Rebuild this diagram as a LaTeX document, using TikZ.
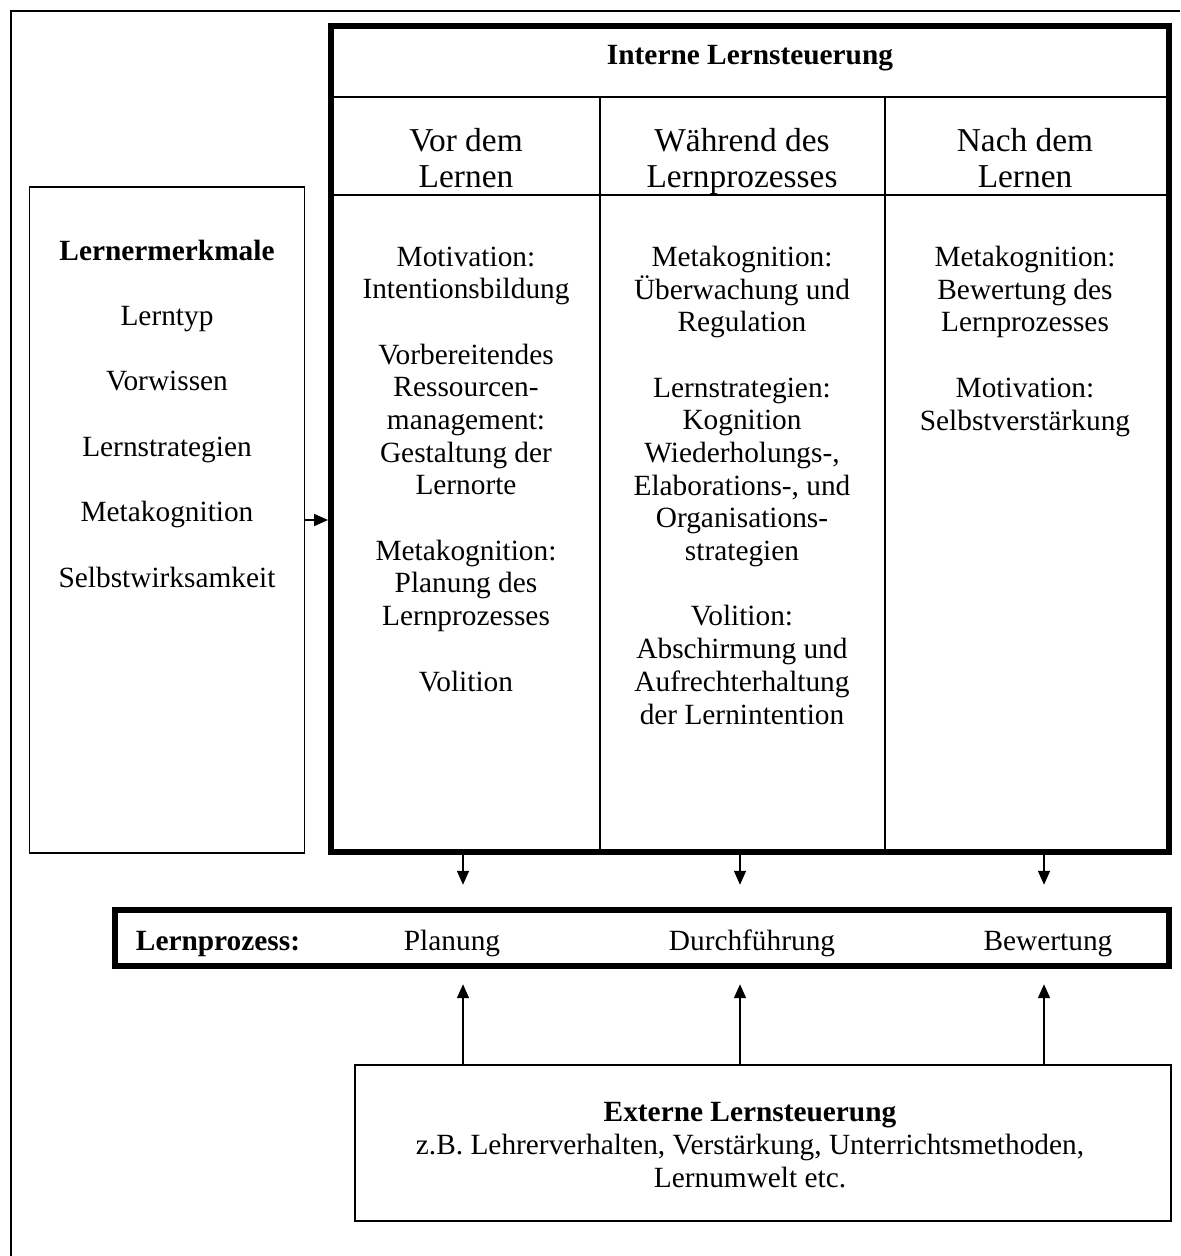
\documentclass[tikz,border=0pt]{standalone}
\usepackage{fontspec}
\setmainfont{Liberation Serif}
\usetikzlibrary{arrows.meta}

\begin{document}
\begin{tikzpicture}[x=0.02cm,y=-0.02cm,
  font=\fontsize{16.7}{18.6}\selectfont,
  frame/.style={draw,line width=1.4pt},
  thickbox/.style={draw,line width=3.4pt,inner sep=0pt},
  thinbox/.style={draw,line width=0.85pt,inner sep=0pt},
  rule/.style={draw,line width=1.1pt},
  txt/.style={align=center,anchor=base,inner sep=0pt},
  bold/.style={txt,font=\fontsize{16.7}{18.6}\selectfont\bfseries},
  head/.style={txt,font=\fontsize{19}{21}\selectfont},
  arr/.style={draw,line width=0.85pt,-{Triangle[length=0.28cm,width=0.24cm]}}]
\useasboundingbox (0,0) rectangle (1180,1256);
\draw[frame] (11,1256) -- (11,11) -- (1180,11);

% boxes
\node[thickbox,minimum width=16.76cm,minimum height=16.52cm] (intern) at (750,439) {};
\node[thinbox,minimum width=5.51cm,minimum height=13.32cm] (merkmale) at (167,520) {};
\node[thickbox,minimum width=21.08cm,minimum height=1.13cm] (prozess) at (642,938) {};
\node[thinbox,minimum width=16.32cm,minimum height=3.12cm] (extern) at (763,1143) {};

% table lines
\coordinate (titlerule) at (0,97);
\coordinate (headrule) at (0,195);
\coordinate (div1) at (600,0);
\coordinate (div2) at (885,0);
\draw[rule] (intern.west |- titlerule) -- (intern.east |- titlerule);
\draw[rule] (intern.west |- headrule) -- (intern.east |- headrule);
\draw[rule] (div1 |- titlerule) -- (div1 |- intern.south);
\draw[rule] (div2 |- titlerule) -- (div2 |- intern.south);

% texts (base = baseline of the last line)
\node[bold] (interntitle) at (750,65) {Interne Lernsteuerung};
\node[head] (vor) at (466,188) {Vor dem\\Lernen};
\node[head] (waehrend) at (742,188) {Während des\\Lernprozesses};
\node[head] (nach) at (1025,188) {Nach dem\\Lernen};
\node[txt] (vorbody) at (466,691) {Motivation:\\Intentionsbildung\\[18.6pt]Vorbereitendes\\Ressourcen-\\management:\\Gestaltung der\\Lernorte\\[18.6pt]Metakognition:\\Planung des\\Lernprozesses\\[18.6pt]Volition};
\node[txt] (waehrendbody) at (742,724) {Metakognition:\\Überwachung und\\Regulation\\[18.6pt]Lernstrategien:\\Kognition\\Wiederholungs-,\\Elaborations-, und\\Organisations-\\strategien\\[18.6pt]Volition:\\Abschirmung und\\Aufrechterhaltung\\der Lernintention};
\node[txt] (nachbody) at (1025,430) {Metakognition:\\Bewertung des\\Lernprozesses\\[18.6pt]Motivation:\\Selbstverstärkung};
\node[txt] (merkmaletext) at (167,587) {\textbf{Lernermerkmale}\\[18.6pt]Lerntyp\\[18.6pt]Vorwissen\\[18.6pt]Lernstrategien\\[18.6pt]Metakognition\\[18.6pt]Selbstwirksamkeit};
\node[bold] (lplabel) at (218,950) {Lernprozess:};
\node[txt] (planung) at (452,950) {Planung};
\node[txt] (durchf) at (752,950) {Durchführung};
\node[txt] (bewertung) at (1048,950) {Bewertung};
\node[txt] (externtext) at (750,1187) {\textbf{Externe Lernsteuerung}\\z.B. Lehrerverhalten, Verstärkung, Unterrichtsmethoden,\\Lernumwelt etc.};

% arrows
\draw[arr] (merkmale.east) -- (intern.west |- merkmale.east);
\foreach \c in {463,740,1044} {
  \coordinate (col) at (\c,0);
  \draw[arr,shorten >=0.44cm] (col |- intern.south) -- (col |- prozess.north);
  \draw[arr,shorten >=0.3cm] (col |- extern.north) -- (col |- prozess.south);
}
\end{tikzpicture}
\end{document}
